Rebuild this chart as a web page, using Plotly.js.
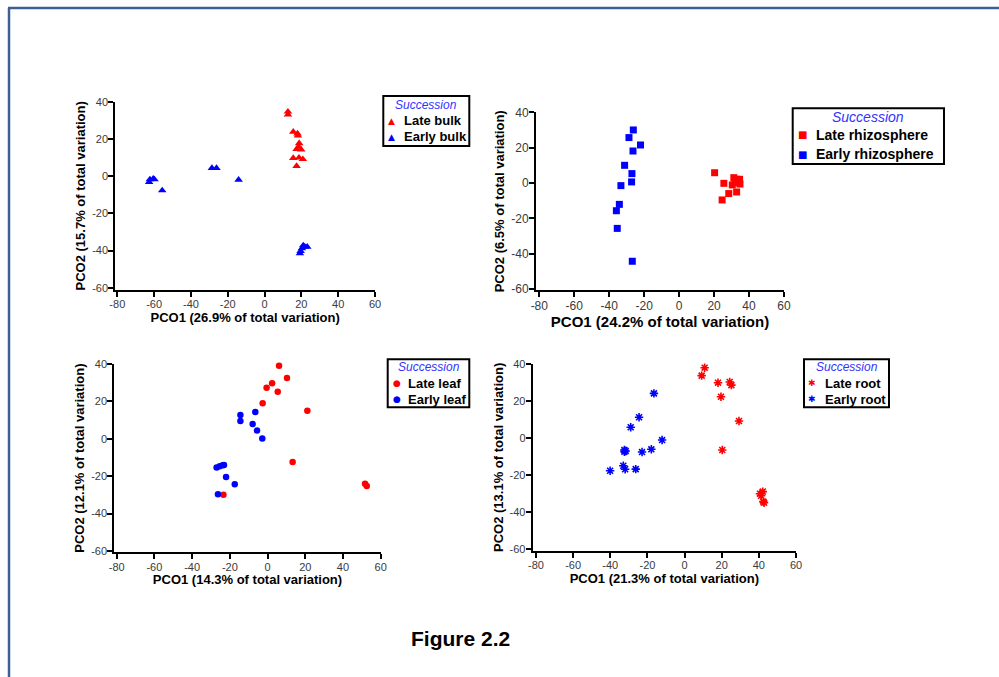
<!DOCTYPE html>
<html>
<head>
<meta charset="utf-8">
<script src="https://cdn.plot.ly/plotly-3.0.1.min.js"></script>
<style>
  html, body { margin: 0; padding: 0; background: #ffffff; }
  #chart { width: 999px; height: 677px; }
</style>
</head>
<body>
<div id="chart"></div>
<script>
// ---------------- DATA ----------------
const xTickVals = [-80, -60, -40, -20, 0, 20, 40, 60];
const xTickText = ["-80", "-60", "-40", "-20", "0", "20", "40", "60"];
const yTickVals = [-60, -40, -20, 0, 20, 40];
const yTickText = ["-60", "-40", "-20", "0", "20", "40"];

const bulkLateX  = [12.7, 12.7, 15.6, 17.9, 18.1, 18.8, 18.5, 19.9, 17.4, 15.6, 18.7, 20.8, 17.4];
const bulkLateY  = [34.6, 33.1, 23.8, 22.9, 21.7, 17.6, 15.8, 14.3, 14.5, 9.7, 9.9, 9.1, 5.4];
const bulkEarlyX = [-62.3, -62.7, -60.5, -59.8, -55.6, -28.6, -26.1, -14.1, 21.0, 23.2, 20.3, 19.2, 21.9, 19.6];
const bulkEarlyY = [-1.8, -3.2, -1.4, -1.8, -7.7, 4.3, 4.3, -2.0, -37.3, -38.0, -38.9, -41.6, -38.0, -40.3];

const rhizoLateX  = [20.3, 25.6, 24.6, 28.4, 31.3, 32.9, 34.6, 30.4, 34.8, 32.9, 32.0];
const rhizoLateY  = [5.8, -0.2, -9.6, -6.0, 3.0, 2.1, 2.1, -1.1, -0.6, -5.1, 0.2];
const rhizoEarlyX = [-26.2, -28.7, -22.1, -26.4, -31.2, -27.0, -27.2, -33.3, -34.2, -35.9, -35.4, -26.8];
const rhizoEarlyY = [30.0, 25.7, 21.5, 18.1, 10.0, 5.3, 0.6, -1.5, -12.1, -15.7, -25.7, -44.3];

const leafLateX  = [6.1, 10.3, 2.4, -0.5, 5.4, -2.6, 21.1, 13.3, -23.4, 51.7, 52.6];
const leafLateY  = [39.1, 32.5, 29.7, 27.3, 25.2, 19.0, 15.0, -12.4, -29.9, -24.0, -25.2];
const leafEarlyX = [-14.4, -14.4, -6.5, -7.9, -5.6, -2.8, -27.0, -25.4, -23.8, -23.1, -22.0, -17.4, -26.3];
const leafEarlyY = [12.7, 9.5, 14.3, 7.9, 4.4, 0.2, -15.4, -14.7, -14.1, -14.0, -20.4, -24.3, -29.7];

const rootLateX  = [10.8, 9.2, 18.0, 24.3, 25.2, 19.6, 29.3, 20.3, 42.1, 40.6, 41.2, 42.4, 42.8];
const rootLateY  = [38.0, 33.7, 29.9, 30.3, 28.6, 22.3, 9.2, -6.5, -29.0, -30.1, -31.2, -34.4, -35.0];
const rootEarlyX = [-16.5, -24.5, -29.0, -12.1, -32.4, -31.7, -32.4, -22.9, -17.9, -33.0, -32.0, -26.3, -40.1];
const rootEarlyY = [24.1, 11.2, 5.8, -1.1, -6.5, -7.0, -7.4, -7.6, -6.1, -15.0, -16.9, -16.8, -17.7];

const xTitles = ["PCO1 (26.9% of total variation)", "PCO1 (24.2% of total variation)",
                 "PCO1 (14.3% of total variation)", "PCO1 (21.3% of total variation)"];
const yTitles = ["PCO2 (15.7% of total variation)", "PCO2 (6.5% of total variation)",
                 "PCO2 (12.1% of total variation)", "PCO2 (13.1% of total variation)"];
const legendTitle = "Succession";
const lateNames  = ["Late bulk", "Late rhizosphere", "Late leaf", "Late root"];
const earlyNames = ["Early bulk", "Early rhizosphere", "Early leaf", "Early root"];
const figureCaption = "Figure 2.2";

// ---------------- LAYOUT HELPERS ----------------
const W = 999, H = 677;
const RED = "#ff0000", BLUE = "#0000ff";
const FONT = "Arial, 'Liberation Sans', sans-serif";

// pixel geometry of each panel: y-axis line x, x pos of -80, x pos of 60, x-axis line y, y pos of 40, y pos of -60
const panels = [
  {xl: 115.3, xa: 117.3, xb: 375.0, yl: 290.0, ya: 101.7, yb: 287.7, tick: 11, tfont: 13, yfont: 13, xso: 0, yso: 3.5},
  {xl: 536.0, xa: 539.3, xb: 784.0, yl: 290.3, ya: 112.3, yb: 289.0, tick: 12, tfont: 15, yfont: 13, xso: 1, yso: 3.5},
  {xl: 114.3, xa: 116.7, xb: 380.7, yl: 552.3, ya: 364.0, yb: 551.0, tick: 11, tfont: 13, yfont: 13, xso: 3, yso: 3.5},
  {xl: 532.7, xa: 536.0, xb: 796.0, yl: 550.7, ya: 364.0, yb: 549.0, tick: 11, tfont: 13, yfont: 13, xso: 3, yso: 3.5}
];
const symbols = ["triangle-up", "square", "circle", "asterisk"];
const sizes = [7.5, 7, 6.5, 7];
const lateX = [bulkLateX, rhizoLateX, leafLateX, rootLateX];
const lateY = [bulkLateY, rhizoLateY, leafLateY, rootLateY];
const earlyX = [bulkEarlyX, rhizoEarlyX, leafEarlyX, rootEarlyX];
const earlyY = [bulkEarlyY, rhizoEarlyY, leafEarlyY, rootEarlyY];

// legend boxes (pixel geometry)
const legends = [
  {x0: 383.3, x1: 469.3, y0: 96.0, y1: 146.0, ty: 105.0, r1: 120.7, r2: 136.7, mx: 391.7, tx: 402.0, fs: 13, tfs: 12, gl: "▲", gs: 9},
  {x0: 792.7, x1: 944.0, y0: 108.3, y1: 164.0, ty: 116.7, r1: 135.0, r2: 154.3, mx: 802.7, tx: 813.5, fs: 14, tfs: 14, gl: "■", gs: 10},
  {x0: 387.7, x1: 469.3, y0: 359.3, y1: 407.3, ty: 366.7, r1: 383.3, r2: 399.0, mx: 396.7, tx: 406.0, fs: 13, tfs: 12, gl: "●", gs: 9},
  {x0: 804.0, x1: 889.0, y0: 359.3, y1: 407.3, ty: 366.7, r1: 383.3, r2: 399.0, mx: 811.7, tx: 822.5, fs: 13, tfs: 12, gl: "✱", gs: 9}
];

const px = v => v / W;
const py = v => 1 - v / H;

const traces = [];
const layout = {
  width: W, height: H,
  margin: {l: 0, r: 0, t: 0, b: 0},
  paper_bgcolor: "#ffffff",
  plot_bgcolor: "rgba(0,0,0,0)",
  showlegend: false,
  font: {family: FONT, color: "#333333"},
  shapes: [],
  annotations: []
};

panels.forEach((p, i) => {
  const n = i + 1;
  const xs = n === 1 ? "" : String(n);
  const xu = (p.xb - p.xa) / 140;
  const yu = (p.yb - p.ya) / 100;
  const xmin = -80 - (p.xa - p.xl) / xu;
  const ymin = -60 - (p.yl - p.yb) / yu;
  const isAst = symbols[i] === "asterisk";
  const mk = (c) => ({
    symbol: symbols[i], size: sizes[i], color: c,
    line: isAst ? {color: c, width: 1.6} : {width: 0}
  });
  traces.push({x: lateX[i], y: lateY[i], type: "scatter", mode: "markers", name: lateNames[i],
               marker: mk(RED), xaxis: "x" + xs, yaxis: "y" + xs, cliponaxis: false});
  traces.push({x: earlyX[i], y: earlyY[i], type: "scatter", mode: "markers", name: earlyNames[i],
               marker: mk(BLUE), xaxis: "x" + xs, yaxis: "y" + xs, cliponaxis: false});
  const common = {
    showgrid: false, zeroline: false, showline: true, linecolor: "#000000", linewidth: 2,
    ticks: "outside", ticklen: 5, tickwidth: 2, tickcolor: "#000000",
    tickfont: {family: FONT, size: p.tick, color: "#3a3a3a"},
    fixedrange: true
  };
  layout["xaxis" + xs] = Object.assign({}, common, {
    domain: [px(p.xl), px(p.xb)], range: [xmin, 60], anchor: "y" + xs,
    tickmode: "array", tickvals: xTickVals, ticktext: xTickText, ticklabelstandoff: -2,
    title: {text: xTitles[i], standoff: p.xso, font: {family: FONT, size: p.tfont, weight: "bold", color: "#000000"}}
  });
  layout["yaxis" + xs] = Object.assign({}, common, {
    domain: [py(p.yl), py(p.ya)], range: [ymin, 40], anchor: "x" + xs,
    tickmode: "array", tickvals: yTickVals, ticktext: yTickText, ticklabelstandoff: -2,
    title: {text: yTitles[i], standoff: p.yso, font: {family: FONT, size: p.yfont, weight: "bold", color: "#000000"}}
  });

  // manual legend
  const L = legends[i];
  layout.shapes.push({type: "rect", xref: "paper", yref: "paper",
    x0: px(L.x0), x1: px(L.x1), y0: py(L.y1), y1: py(L.y0),
    line: {color: "#000000", width: 2}, fillcolor: "#ffffff", layer: "above"});
  layout.annotations.push({xref: "paper", yref: "paper", x: px((L.x0 + L.x1) / 2), y: py(L.ty),
    xanchor: "center", yanchor: "middle", showarrow: false, text: legendTitle,
    font: {family: FONT, size: L.tfs, style: "italic", color: "#3333ff"}});
  [[L.r1, lateNames[i], RED], [L.r2, earlyNames[i], BLUE]].forEach(([ry, name, col]) => {
    layout.annotations.push({xref: "paper", yref: "paper", x: px(L.mx), y: py(ry),
      xanchor: "center", yanchor: "middle", showarrow: false, text: L.gl,
      font: {family: "'DejaVu Sans', sans-serif", size: L.gs, color: col}});
    layout.annotations.push({xref: "paper", yref: "paper", x: px(L.tx), y: py(ry),
      xanchor: "left", yanchor: "middle", showarrow: false, text: name,
      font: {family: FONT, size: L.fs, weight: "bold", color: "#000000"}});
  });
});

// page frame (blue border top & left)
layout.shapes.push({type: "line", xref: "paper", yref: "paper", x0: px(8), x1: 1, y0: py(8), y1: py(8),
  line: {color: "#3d5f92", width: 2.5}});
layout.shapes.push({type: "line", xref: "paper", yref: "paper", x0: px(9), x1: px(9), y0: py(8), y1: 0,
  line: {color: "#3d5f92", width: 2.5}});

// caption
layout.annotations.push({xref: "paper", yref: "paper", x: px(460), y: py(638),
  xanchor: "center", yanchor: "middle", showarrow: false, text: figureCaption,
  font: {family: FONT, size: 21, weight: "bold", color: "#000000"}});

Plotly.newPlot("chart", traces, layout, {displayModeBar: false, staticPlot: true});
</script>
</body>
</html>
